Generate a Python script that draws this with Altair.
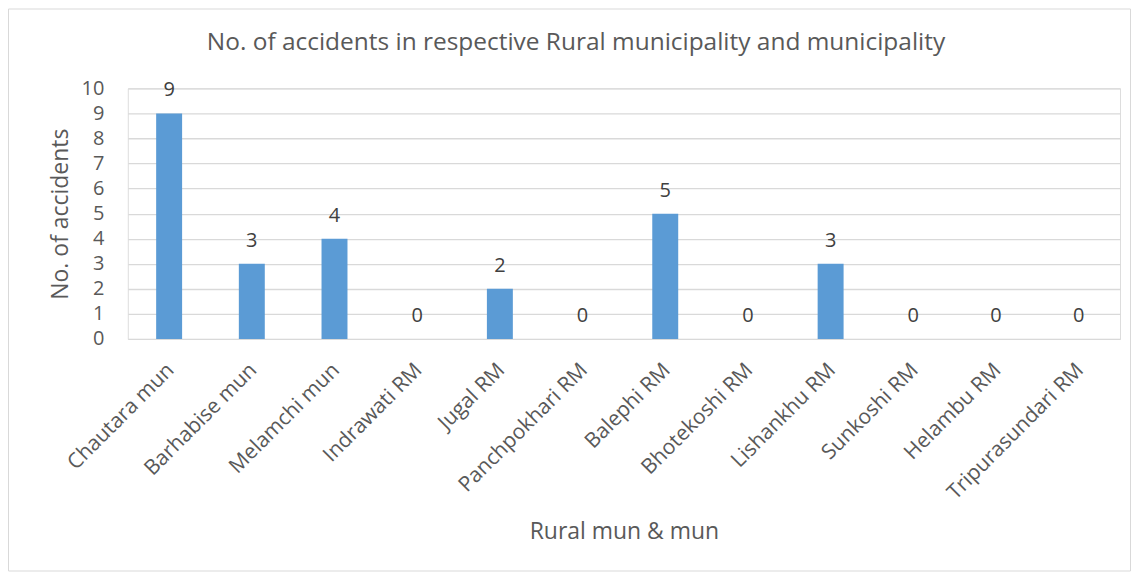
import altair as alt
import pandas as pd

categories = ["Chautara mun", "Barhabise mun", "Melamchi mun", "Indrawati RM", "Jugal RM",
              "Panchpokhari RM", "Balephi RM", "Bhotekoshi RM", "Lishankhu RM", "Sunkoshi RM",
              "Helambu RM", "Tripurasundari RM"]
accidents = [9, 3, 4, 0, 2, 0, 5, 0, 3, 0, 0, 0]
y_ticks = list(range(0, 11))
chart_title = "No. of accidents in respective Rural municipality and municipality"

df = pd.DataFrame({"name": categories, "count": accidents})

FONT = "Open Sans"
TXT = "#595959"
W, H = 994, 251
PL, PT, PR, PB = 120, 80, 11, 233

x_enc = alt.X("name:N", sort=categories, title="Rural mun & mun",
              scale=alt.Scale(paddingInner=0.69, paddingOuter=0.345),
              axis=alt.Axis(labelAngle=-45, labelFontSize=21, labelColor=TXT, labelFont=FONT,
                            labelPadding=20, labelOffset=-6, domain=False, ticks=False,
                            labelOverlap=False, labelLimit=400,
                            titleFontSize=23, titleColor=TXT, titleFont=FONT, titleFontWeight="normal",
                            titlePadding=18))
y_enc = alt.Y("count:Q", title="No. of accidents",
              scale=alt.Scale(domain=[0, 10], nice=False),
              axis=alt.Axis(values=y_ticks, grid=True, gridColor="#d9d9d9", gridWidth=1.3,
                            domain=False, ticks=False, labelFontSize=20, labelColor=TXT,
                            labelFont=FONT, labelPadding=24, labelOverlap=False,
                            titleFontSize=23, titleColor=TXT,
                            titleFont=FONT, titleFontWeight="normal", titlePadding=9))

bars = alt.Chart(df).mark_bar(color="#5B9BD5", size=26).encode(x=x_enc, y=y_enc)
labels = alt.Chart(df).mark_text(fontSize=20, font=FONT, color="#404040", baseline="alphabetic",
                                 dy=-17).encode(x=x_enc, y=y_enc, text="count:Q")

border = alt.Chart(pd.DataFrame({"a": [0]})).mark_rect(fill=None, stroke="#d9d9d9",
                                                       strokeWidth=1).encode(
    x=alt.value(-PL + 0.5), x2=alt.value(W + PR - 0.5),
    y=alt.value(-PT + 0.5), y2=alt.value(H + PB - 0.5))

title_mark = alt.Chart(pd.DataFrame({"t": [chart_title]})).mark_text(
    fontSize=24.5, font=FONT, color=TXT, align="center", baseline="alphabetic").encode(
    x=alt.value(449), y=alt.value(-38), text="t:N")

chart = alt.layer(border, bars, labels, title_mark).properties(
    width=W, height=H,
    padding={"left": PL, "top": PT, "right": PR, "bottom": PB},
    autosize=alt.AutoSizeParams(type="none"),
).configure_view(stroke=None).configure(background="white")

chart.save("out.html", embed_options={"renderer": "svg", "actions": False})
